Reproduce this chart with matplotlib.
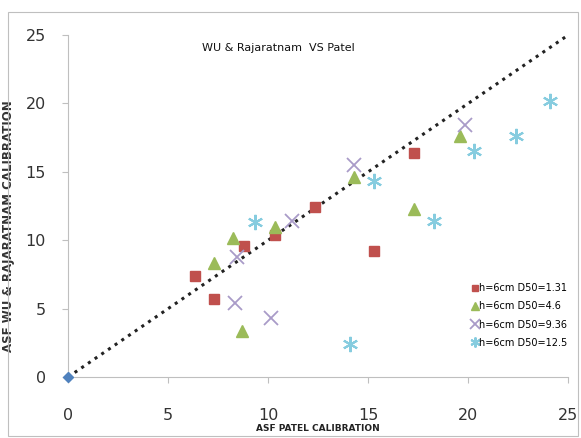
import numpy as np
import matplotlib.pyplot as plt
from matplotlib.patches import Rectangle

# data: ASF Patel (x) vs ASF Wu & Rajaratnam (y)
d131_x = [6.35, 7.3, 8.8, 10.35, 12.35, 15.27, 17.27]
d131_y = [7.4, 5.7, 9.55, 10.4, 12.4, 9.2, 16.4]

d46_x = [7.3, 8.27, 8.7, 10.35, 14.3, 17.27, 19.6]
d46_y = [8.35, 10.2, 3.4, 11.0, 14.6, 12.3, 17.6]

d936_x = [8.35, 8.45, 10.15, 11.2, 14.3, 19.85]
d936_y = [5.4, 8.8, 4.3, 11.4, 15.5, 18.4]

d125_x = [9.35, 14.1, 15.27, 18.27, 20.27, 22.4, 24.1]
d125_y = [11.3, 2.4, 14.35, 11.4, 16.5, 17.6, 20.2]

line_x = [0, 25]
line_y = [0, 25]

labels = ["h=6cm D50=1.31", "h=6cm D50=4.6", "h=6cm D50=9.36", "h=6cm D50=12.5"]

fig = plt.figure(figsize=(5.81, 4.38), dpi=100)
fig.patches.append(Rectangle((0.013, 0.005), 0.982, 0.968, transform=fig.transFigure,
                             fill=False, edgecolor='#bfbfbf', linewidth=0.8))
ax = fig.add_axes([0.117, 0.139, 0.861, 0.781])

ax.plot(line_x, line_y, linestyle=':', color='#222222', linewidth=2.2, zorder=2)
ax.plot([0], [0], marker='D', color='#4F81BD', markersize=5, linestyle='none',
        zorder=4, clip_on=False)

ax.plot(d131_x, d131_y, 's', color='#C0504D', markersize=7.5, linestyle='none',
        label=labels[0], zorder=3)
ax.plot(d46_x, d46_y, '^', color='#9BBB59', markersize=8.5, linestyle='none',
        label=labels[1], zorder=3)
ax.plot(d936_x, d936_y, 'x', color='#A99BC8', markersize=10, markeredgewidth=1.3,
        linestyle='none', label=labels[2], zorder=3)
ax.plot(d125_x, d125_y, marker=(6, 2, 0), color='#86CCDF', markersize=11,
        markeredgewidth=1.5, linestyle='none', label=labels[3], zorder=3)

ax.set_xlim(0, 25)
ax.set_ylim(0, 25)
ax.set_xticks([0, 5, 10, 15, 20, 25])
ax.set_yticks([0, 5, 10, 15, 20, 25])
for s in ['top', 'right']:
    ax.spines[s].set_visible(False)
for s in ['left', 'bottom']:
    ax.spines[s].set_color('#bfbfbf')
ax.tick_params(axis='both', colors='#bfbfbf', labelcolor='#333333', labelsize=11.5,
               length=4, direction='out')
ax.tick_params(axis='x', pad=18)
ax.tick_params(axis='y', pad=12)

ax.set_title("WU & Rajaratnam  VS Patel", fontsize=8, color='#111111',
             x=0.42, y=0.93)
ax.set_xlabel("ASF PATEL CALIBRATION", fontsize=6.5, fontweight='bold', color='#222222',
              labelpad=1)
ax.set_ylabel("ASF WU & RAJARATNAM CALIBRATION", fontsize=8.5, fontweight='bold',
              color='#333333')
ax.yaxis.set_label_coords(-0.105, 0.44)

leg = ax.legend(loc='lower right', bbox_to_anchor=(1.015, 0.06), frameon=False,
                fontsize=7, handlelength=0.5, handletextpad=0.1, labelspacing=0.85,
                markerscale=0.65)

fig.savefig("out.png", dpi=100)
